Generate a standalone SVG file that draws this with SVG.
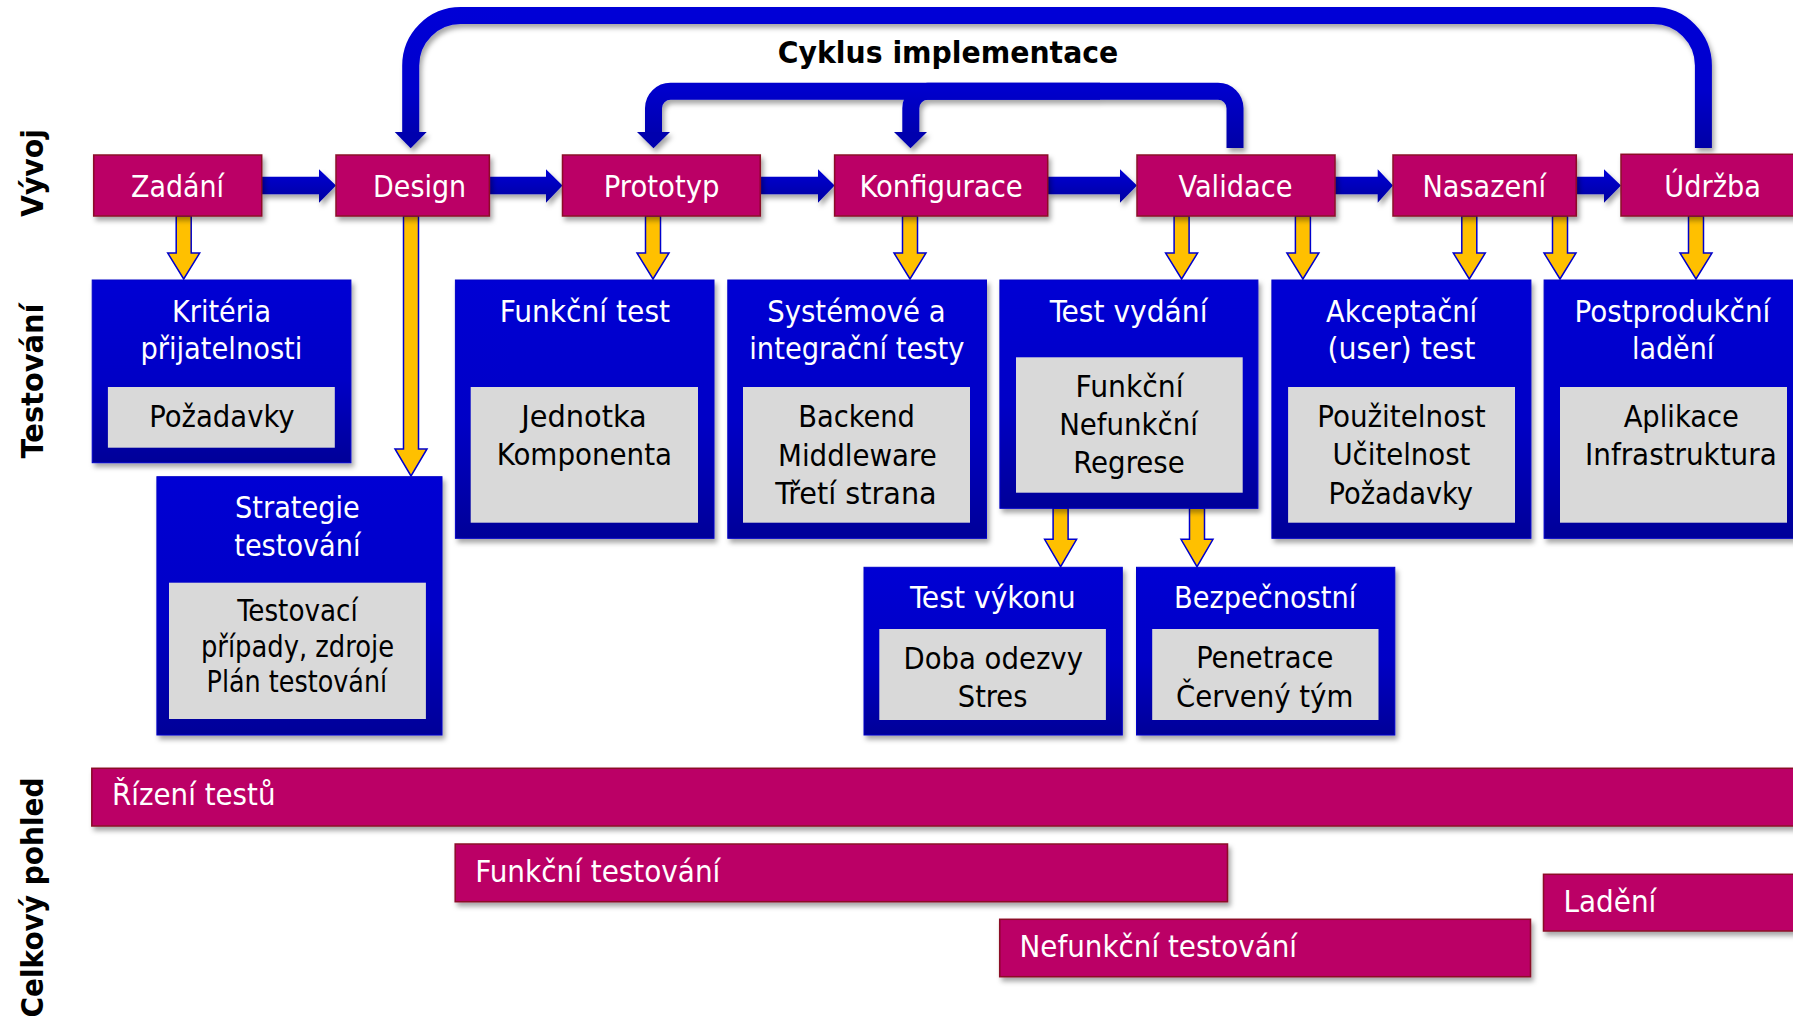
<svg xmlns="http://www.w3.org/2000/svg" width="1793" height="1019" viewBox="0 0 1793 1019">
<defs>
  <linearGradient id="gBox" x1="0" y1="0" x2="0" y2="1">
    <stop offset="0" stop-color="#0000D4"/>
    <stop offset="0.55" stop-color="#0000C6"/>
    <stop offset="1" stop-color="#000098"/>
  </linearGradient>
  <linearGradient id="gLoop" gradientUnits="userSpaceOnUse" x1="0" y1="0" x2="0" y2="150">
    <stop offset="0" stop-color="#0000D8"/>
    <stop offset="0.6" stop-color="#0000CC"/>
    <stop offset="1" stop-color="#0000A4"/>
  </linearGradient>
  <linearGradient id="gHArrow" x1="0" y1="0" x2="0" y2="1">
    <stop offset="0" stop-color="#0000D6"/>
    <stop offset="1" stop-color="#0000A0"/>
  </linearGradient>
  <filter id="sh" x="-5%" y="-20%" width="110%" height="150%">
    <feDropShadow dx="2.5" dy="4" stdDeviation="2.5" flood-color="#000" flood-opacity="0.35"/>
  </filter>
</defs>
<style>
  .dev { fill:#BB0066; stroke:#8B0A28; stroke-width:1.5; filter:url(#sh); }
  .blue { fill:url(#gBox); stroke:#0000C8; stroke-width:1; filter:url(#sh); }
  .grey { fill:#D9D9D9; }
  .loops { filter:url(#sh); }
  .loop { fill:none; stroke:url(#gLoop); stroke-width:17; }
  .lhead { fill:#0000AE; }
  .harrow { fill:url(#gHArrow); filter:url(#sh); }
  .yarrow { fill:#FFC000; stroke:#0000CC; stroke-width:1.5; stroke-linejoin:miter; }
  text { font-family:'DejaVu Sans Condensed','DejaVu Sans',sans-serif; font-size:31px; }
  .wt { fill:#FFFFFF; text-anchor:middle; }
  .bt { fill:#000000; text-anchor:middle; }
  .wl { fill:#FFFFFF; text-anchor:start; }
  .hd { fill:#000000; font-family:'DejaVu Sans',sans-serif; font-weight:bold; text-anchor:middle; }
</style>

<g id="connectors">
  <g class="loops">
    <!-- outer loop Údržba -> Design -->
    <path class="loop" d="M1703.4 148 V65.5 A50 50 0 0 0 1653.4 15.5 H460.7 A50 50 0 0 0 410.7 65.5 V133"/>
    <polygon class="lhead" points="394.7,132 426.7,132 410.7,148.3"/>
  </g>
  <g class="loops">
    <!-- inner loop Validace -> Prototyp, with branch -> Konfigurace -->
    <path class="loop" d="M1235 148 V108.3 A17 17 0 0 0 1218 91.3 H670.5 A17 17 0 0 0 653.5 108.3 V133"/>
    <path class="loop" d="M1100 91.3 H927.8 A17 17 0 0 0 910.8 108.3 V133"/>
    <polygon class="lhead" points="637,132 670,132 653.5,148.3"/>
    <polygon class="lhead" points="894,132 927,132 910.5,148.3"/>
  </g>

  <!-- horizontal flow arrows -->
  <polygon class="harrow" points="261,176.7 319,176.7 319,169.3 336,185.5 319,202.7 319,194.3 261,194.3"/>
  <polygon class="harrow" points="489,176.7 546,176.7 546,169.3 562.5,185.5 546,202.7 546,194.3 489,194.3"/>
  <polygon class="harrow" points="760,176.7 818,176.7 818,169.3 834.6,185.5 818,202.7 818,194.3 760,194.3"/>
  <polygon class="harrow" points="1047,176.7 1120,176.7 1120,169.3 1137,185.5 1120,202.7 1120,194.3 1047,194.3"/>
  <polygon class="harrow" points="1335,176.7 1377.7,176.7 1377.7,169.3 1393,185.5 1377.7,202.7 1377.7,194.3 1335,194.3"/>
  <polygon class="harrow" points="1576,176.7 1604,176.7 1604,169.3 1621,185.5 1604,202.7 1604,194.3 1576,194.3"/>

  <!-- yellow arrows -->
  <polygon class="yarrow" points="176.2,216 191.2,216 191.2,253 199.7,253 183.7,279 167.7,253 176.2,253"/>
  <polygon class="yarrow" points="403.5,216 418.5,216 418.5,449 427,449 411,476 395,449 403.5,449"/>
  <polygon class="yarrow" points="645.5,216 660.5,216 660.5,253 669,253 653,279 637,253 645.5,253"/>
  <polygon class="yarrow" points="902.5,216 917.5,216 917.5,253 926,253 910,279 894,253 902.5,253"/>
  <polygon class="yarrow" points="1174.1,216 1189.1,216 1189.1,253 1197.6,253 1181.6,279 1165.6,253 1174.1,253"/>
  <polygon class="yarrow" points="1295.4,216 1310.4,216 1310.4,253 1318.9,253 1302.9,279 1286.9,253 1295.4,253"/>
  <polygon class="yarrow" points="1461.8,216 1476.8,216 1476.8,253 1485.3,253 1469.3,279 1453.3,253 1461.8,253"/>
  <polygon class="yarrow" points="1552.5,216 1567.5,216 1567.5,253 1576,253 1560,279 1544,253 1552.5,253"/>
  <polygon class="yarrow" points="1688.5,216 1703.5,216 1703.5,253 1712,253 1696,279 1680,253 1688.5,253"/>
  <polygon class="yarrow" points="1053.1,508.3 1068.1,508.3 1068.1,539.3 1076.6,539.3 1060.6,566.7 1044.6,539.3 1053.1,539.3"/>
  <polygon class="yarrow" points="1189.5,508.3 1204.5,508.3 1204.5,539.3 1213,539.3 1197,566.7 1181,539.3 1189.5,539.3"/>
</g>

<!-- row labels -->
<g id="row-labels">
  <text class="hd" font-size="34" transform="translate(43,173) rotate(-90)" textLength="88" lengthAdjust="spacingAndGlyphs">Vývoj</text>
  <text class="hd" font-size="34" transform="translate(43,381) rotate(-90)" textLength="155" lengthAdjust="spacingAndGlyphs">Testování</text>
  <text class="hd" font-size="34" transform="translate(43,897.5) rotate(-90)" textLength="240" lengthAdjust="spacingAndGlyphs">Celkový pohled</text>
</g>

<g id="title">
  <text class="hd" x="948" y="63" textLength="340.5" lengthAdjust="spacingAndGlyphs">Cyklus implementace</text>
</g>

<!-- development row -->
<g id="zadani">
  <rect class="dev" x="93.7" y="155" width="168" height="61"/>
  <text class="wt" x="177.5" y="197" textLength="93" lengthAdjust="spacingAndGlyphs">Zadání</text>
</g>
<g id="design">
  <rect class="dev" x="336" y="155" width="153.4" height="61"/>
  <text class="wt" x="419.6" y="197" textLength="93" lengthAdjust="spacingAndGlyphs">Design</text>
</g>
<g id="prototyp">
  <rect class="dev" x="562.5" y="155" width="197.8" height="61"/>
  <text class="wt" x="661.6" y="197" textLength="115.6" lengthAdjust="spacingAndGlyphs">Prototyp</text>
</g>
<g id="konfigurace">
  <rect class="dev" x="834.6" y="155" width="213.1" height="61"/>
  <text class="wt" x="941.1" y="197" textLength="163.4" lengthAdjust="spacingAndGlyphs">Konfigurace</text>
</g>
<g id="validace">
  <rect class="dev" x="1137" y="155" width="198" height="61"/>
  <text class="wt" x="1235.6" y="197" textLength="114" lengthAdjust="spacingAndGlyphs">Validace</text>
</g>
<g id="nasazeni">
  <rect class="dev" x="1393" y="155" width="183.3" height="61"/>
  <text class="wt" x="1484.2" y="197" textLength="123.6" lengthAdjust="spacingAndGlyphs">Nasazení</text>
</g>
<g id="udrzba">
  <rect class="dev" x="1621" y="154.3" width="190" height="61.7"/>
  <text class="wt" x="1712.6" y="197" textLength="96.5" lengthAdjust="spacingAndGlyphs">Údržba</text>
</g>

<!-- testing row -->
<g id="kriteria">
  <rect class="blue" x="92.2" y="280" width="258.7" height="182.7"/>
  <rect class="grey" x="107.9" y="387" width="226.9" height="60.7"/>
  <text class="wt" x="221.5" y="321.7" textLength="99" lengthAdjust="spacingAndGlyphs">Kritéria</text>
  <text class="wt" x="221.4" y="359.3" textLength="162" lengthAdjust="spacingAndGlyphs">přijatelnosti</text>
  <text class="bt" x="221.9" y="426.7" textLength="145.4" lengthAdjust="spacingAndGlyphs">Požadavky</text>
</g>
<g id="strategie">
  <rect class="blue" x="156.9" y="476.7" width="285.1" height="258.3"/>
  <rect class="grey" x="169" y="582.7" width="256.9" height="136.3"/>
  <text class="wt" x="297.4" y="518.3" textLength="124.7" lengthAdjust="spacingAndGlyphs">Strategie</text>
  <text class="wt" x="297.4" y="556" textLength="126.3" lengthAdjust="spacingAndGlyphs">testování</text>
  <text class="bt" x="297.5" y="621" textLength="120.5" lengthAdjust="spacingAndGlyphs">Testovací</text>
  <text class="bt" x="297.5" y="656.7" textLength="193.2" lengthAdjust="spacingAndGlyphs">případy, zdroje</text>
  <text class="bt" x="296.9" y="691.7" textLength="180.6" lengthAdjust="spacingAndGlyphs">Plán testování</text>
</g>
<g id="funkcni-test">
  <rect class="blue" x="455.4" y="280" width="258.6" height="258.3"/>
  <rect class="grey" x="470.7" y="387" width="227.3" height="135.7"/>
  <text class="wt" x="584.9" y="321.7" textLength="170.3" lengthAdjust="spacingAndGlyphs">Funkční test</text>
  <text class="bt" x="584" y="427" textLength="125.5" lengthAdjust="spacingAndGlyphs">Jednotka</text>
  <text class="bt" x="584.4" y="465" textLength="175.3" lengthAdjust="spacingAndGlyphs">Komponenta</text>
</g>
<g id="systemove">
  <rect class="blue" x="727.8" y="280" width="258.7" height="258.3"/>
  <rect class="grey" x="743" y="387" width="227" height="135.7"/>
  <text class="wt" x="856.4" y="321.7" textLength="178.3" lengthAdjust="spacingAndGlyphs">Systémové a</text>
  <text class="wt" x="856.8" y="359.3" textLength="215.1" lengthAdjust="spacingAndGlyphs">integrační testy</text>
  <text class="bt" x="856.6" y="427" textLength="116.7" lengthAdjust="spacingAndGlyphs">Backend</text>
  <text class="bt" x="857.4" y="465.5" textLength="158.8" lengthAdjust="spacingAndGlyphs">Middleware</text>
  <text class="bt" x="856" y="504" textLength="161.4" lengthAdjust="spacingAndGlyphs">Třetí strana</text>
</g>
<g id="test-vydani">
  <rect class="blue" x="999.9" y="280" width="258" height="228.3"/>
  <rect class="grey" x="1016" y="357.3" width="226.7" height="135.4"/>
  <text class="wt" x="1128.6" y="321.7" textLength="157.8" lengthAdjust="spacingAndGlyphs">Test vydání</text>
  <text class="bt" x="1129.6" y="396.7" textLength="108" lengthAdjust="spacingAndGlyphs">Funkční</text>
  <text class="bt" x="1128.6" y="435" textLength="138.8" lengthAdjust="spacingAndGlyphs">Nefunkční</text>
  <text class="bt" x="1129" y="473.3" textLength="111.4" lengthAdjust="spacingAndGlyphs">Regrese</text>
</g>
<g id="akceptacni">
  <rect class="blue" x="1271.9" y="280" width="259" height="258.3"/>
  <rect class="grey" x="1288.1" y="387" width="226.9" height="135.7"/>
  <text class="wt" x="1401.6" y="321.7" textLength="151.2" lengthAdjust="spacingAndGlyphs">Akceptační</text>
  <text class="wt" x="1401.4" y="359.3" textLength="147.8" lengthAdjust="spacingAndGlyphs">(user) test</text>
  <text class="bt" x="1401.4" y="427" textLength="168.3" lengthAdjust="spacingAndGlyphs">Použitelnost</text>
  <text class="bt" x="1401.4" y="465" textLength="138" lengthAdjust="spacingAndGlyphs">Učitelnost</text>
  <text class="bt" x="1400.8" y="503.5" textLength="144.4" lengthAdjust="spacingAndGlyphs">Požadavky</text>
</g>
<g id="postprodukcni">
  <rect class="blue" x="1544.1" y="280" width="270" height="258.3"/>
  <rect class="grey" x="1560" y="387" width="227" height="135.7"/>
  <text class="wt" x="1672.4" y="321.7" textLength="195.9" lengthAdjust="spacingAndGlyphs">Postprodukční</text>
  <text class="wt" x="1673.1" y="359.3" textLength="82.4" lengthAdjust="spacingAndGlyphs">ladění</text>
  <text class="bt" x="1681.3" y="427" textLength="115.3" lengthAdjust="spacingAndGlyphs">Aplikace</text>
  <text class="bt" x="1680.9" y="465" textLength="191.7" lengthAdjust="spacingAndGlyphs">Infrastruktura</text>
</g>
<g id="test-vykonu">
  <rect class="blue" x="864" y="567.3" width="258.3" height="167.7"/>
  <rect class="grey" x="879.3" y="629" width="226.6" height="91"/>
  <text class="wt" x="992.8" y="608.3" textLength="165.7" lengthAdjust="spacingAndGlyphs">Test výkonu</text>
  <text class="bt" x="993.2" y="669" textLength="179.5" lengthAdjust="spacingAndGlyphs">Doba odezvy</text>
  <text class="bt" x="992.6" y="706.7" textLength="69.6" lengthAdjust="spacingAndGlyphs">Stres</text>
</g>
<g id="bezpecnostni">
  <rect class="blue" x="1136.5" y="567.3" width="258.3" height="167.7"/>
  <rect class="grey" x="1152.2" y="629" width="226.3" height="91"/>
  <text class="wt" x="1265.1" y="608.3" textLength="182.2" lengthAdjust="spacingAndGlyphs">Bezpečnostní</text>
  <text class="bt" x="1264.8" y="668.3" textLength="137.3" lengthAdjust="spacingAndGlyphs">Penetrace</text>
  <text class="bt" x="1264.6" y="706.7" textLength="177.3" lengthAdjust="spacingAndGlyphs">Červený tým</text>
</g>

<!-- overview bars -->
<g id="rizeni-testu">
  <rect class="dev" x="91.8" y="768.3" width="1720" height="57.7"/>
  <text class="wl" x="112" y="805" textLength="163.5" lengthAdjust="spacingAndGlyphs">Řízení testů</text>
</g>
<g id="funkcni-testovani">
  <rect class="dev" x="455.2" y="844" width="772.3" height="57.7"/>
  <text class="wl" x="475.3" y="881.7" textLength="245" lengthAdjust="spacingAndGlyphs">Funkční testování</text>
</g>
<g id="ladeni">
  <rect class="dev" x="1543.5" y="874.3" width="270" height="56.7"/>
  <text class="wl" x="1563.5" y="911.7" textLength="92.8" lengthAdjust="spacingAndGlyphs">Ladění</text>
</g>
<g id="nefunkcni-testovani">
  <rect class="dev" x="999.7" y="919.3" width="530.8" height="57.4"/>
  <text class="wl" x="1019.6" y="956.7" textLength="277.4" lengthAdjust="spacingAndGlyphs">Nefunkční testování</text>
</g>
</svg>
